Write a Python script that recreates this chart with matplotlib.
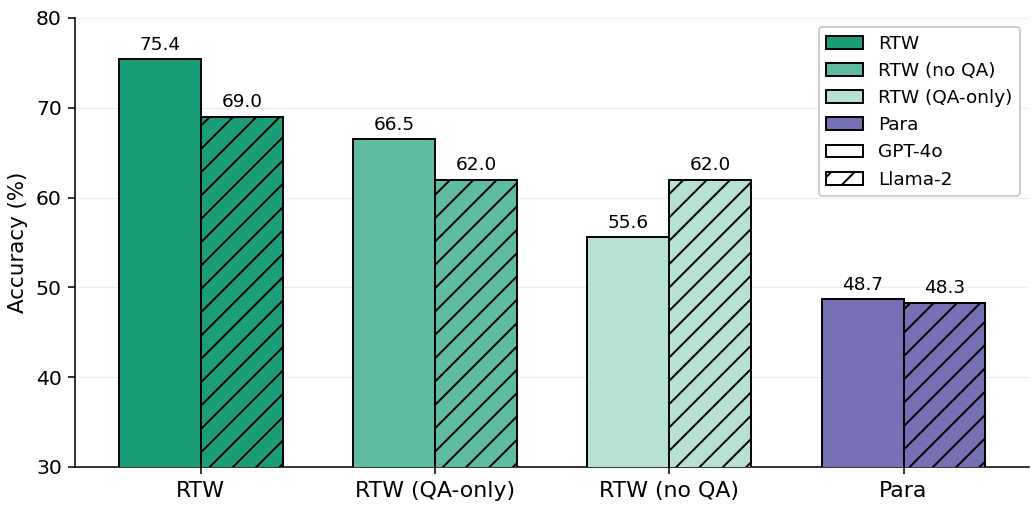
import matplotlib
matplotlib.use("Agg")
import matplotlib.pyplot as plt
import numpy as np
from matplotlib.patches import Patch

plt.rcParams["font.family"] = ["DejaVu Sans"]
plt.rcParams["hatch.linewidth"] = 1.0

categories = ["RTW", "RTW (QA-only)", "RTW (no QA)", "Para"]
gpt4o = [75.4, 66.5, 55.6, 48.7]
llama2 = [69.0, 62.0, 62.0, 48.3]
colors = ["#1b9e77", "#5fbb9f", "#b7e1d4", "#7570b3"]
legend_labels = ["RTW", "RTW (no QA)", "RTW (QA-only)", "Para"]

DPI = 140
fig, ax = plt.subplots(figsize=(1034 / DPI, 512 / DPI), dpi=DPI)
x = np.arange(len(categories))
w = 0.35
b1 = ax.bar(x - w/2, gpt4o, w, color=colors, edgecolor="black", linewidth=1.0, zorder=3)
b2 = ax.bar(x + w/2, llama2, w, color=colors, edgecolor="black", linewidth=1.0, hatch="//", zorder=3)
for bars, vals in ((b1, gpt4o), (b2, llama2)):
    for r, v in zip(bars, vals):
        ax.text(r.get_x() + r.get_width()/2, v + 0.6, f"{v:.1f}", ha="center", va="bottom", fontsize=9.5)

ax.set_ylim(30, 80)
ax.set_xticks(x)
ax.set_xticklabels(categories, fontsize=11.3)
ax.tick_params(axis="y", labelsize=10.5)
ax.set_ylabel("Accuracy (%)", fontsize=11)
ax.spines["top"].set_visible(False)
ax.spines["right"].set_visible(False)
ax.yaxis.grid(True, color="#eeeeee", linewidth=0.6, zorder=0)
ax.set_axisbelow(True)

handles = [Patch(facecolor=c, edgecolor="black", label=l) for c, l in zip(colors, legend_labels)]
handles.append(Patch(facecolor="white", edgecolor="black", label="GPT-4o"))
handles.append(Patch(facecolor="white", edgecolor="black", hatch="//", label="Llama-2"))
ax.legend(handles=handles, loc="upper right", fontsize=9.5, framealpha=1)

fig.subplots_adjust(left=0.073, right=0.995, top=0.965, bottom=0.088)
fig.savefig("out.png", dpi=DPI)
